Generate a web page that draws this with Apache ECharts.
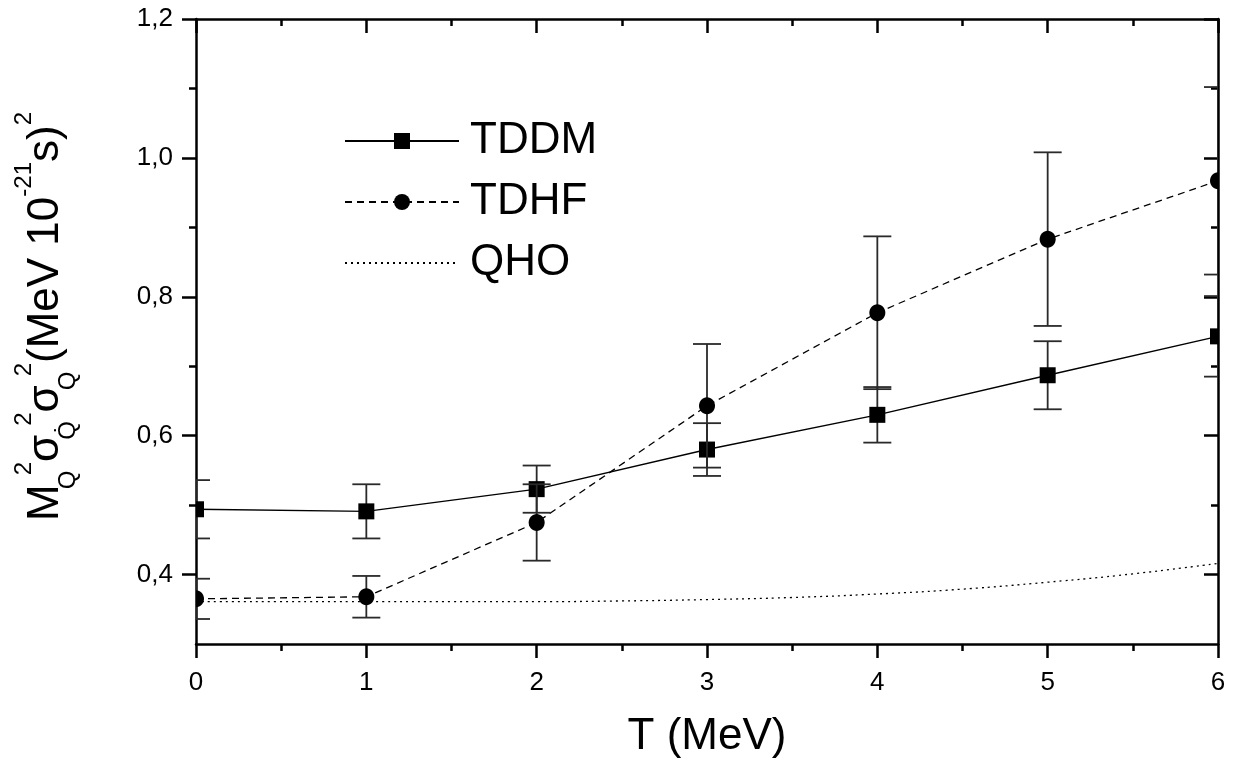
<!DOCTYPE html>
<html>
<head>
<meta charset="utf-8">
<script src="https://cdn.jsdelivr.net/npm/echarts@6/dist/echarts.min.js"></script>
<style>
html,body{margin:0;padding:0;background:#fff;}
#chart{width:1235px;height:767px;}
</style>
</head>
<body>
<div id="chart"></div>
<script>
// ---- data ----
const T = [0, 1, 2, 3, 4, 5, 6];
const TDDM = [0.494, 0.491, 0.523, 0.580, 0.630, 0.687, 0.743];
const TDDM_ERR = [0.042, 0.039, 0.034, 0.038, 0.040, 0.049, 0.058];
const TDHF = [0.365, 0.368, 0.475, 0.643, 0.777, 0.883, 0.967];
const TDHF_ERR = [0.029, 0.030, 0.055, 0.089, 0.110, 0.125, 0.135];
const QHO_T = [0, 0.5, 1, 1.5, 2, 2.5, 3, 3.5, 4, 4.5, 5, 5.5, 6];
const QHO = [0.361, 0.361, 0.361, 0.361, 0.361, 0.362, 0.364, 0.367, 0.372, 0.379, 0.389, 0.401, 0.416];
const Y_MAJOR = [0.4, 0.6, 0.8, 1.0, 1.2];
const Y_MINOR = [0.5, 0.7, 0.9, 1.1];
const X_MIN = 0, X_MAX = 6, Y_MIN = 0.3, Y_MAX = 1.2;

const FONT = '"Liberation Sans", Arial, Helvetica, sans-serif';
const chart = echarts.init(document.getElementById('chart'), null, {renderer: 'canvas'});

const tddmData = T.map((t, i) => [t, TDDM[i], TDDM_ERR[i]]);
const tdhfData = T.map((t, i) => [t, TDHF[i], TDHF_ERR[i]]);
const qhoData = QHO_T.map((t, i) => [t, QHO[i]]);

function errRender(kind) {
  return function (params, api) {
    const x = api.value(0), y = api.value(1), e = api.value(2);
    const c = api.coord([x, y]);
    const t = api.coord([x, y + e]);
    const b = api.coord([x, y - e]);
    const cap = 14;
    const st = {stroke: '#2a2a2a', lineWidth: 1.8, fill: null};
    const children = [
      {type: 'line', shape: {x1: c[0], y1: t[1], x2: c[0], y2: b[1]}, style: st},
      {type: 'line', shape: {x1: c[0] - cap, y1: t[1], x2: c[0] + cap, y2: t[1]}, style: st},
      {type: 'line', shape: {x1: c[0] - cap, y1: b[1], x2: c[0] + cap, y2: b[1]}, style: st}
    ];
    if (kind === 'rect') {
      children.push({type: 'rect', shape: {x: c[0] - 8, y: c[1] - 8, width: 16, height: 16}, style: {fill: '#000'}});
    } else {
      children.push({type: 'ellipse', shape: {cx: c[0], cy: c[1], rx: 8, ry: 8.5}, style: {fill: '#000'}});
    }
    return {type: 'group', children: children};
  };
}

const axisLineStyle = {color: '#000', width: 2.5};
const tickStyle = {color: '#000', width: 2.5};
const yFmt = v => v.toFixed(1).replace('.', ',');

const option = {
  animation: false,
  backgroundColor: '#fff',
  grid: {left: 196, right: 17, top: 19, bottom: 123, containLabel: false},
  legend: {
    orient: 'vertical',
    left: 344,
    top: 117,
    padding: 0,
    itemWidth: 114,
    itemHeight: 20,
    itemGap: 13,
    selectedMode: false,
    data: [
      {name: 'TDDM'},
      {name: 'TDHF'},
      {name: 'QHO', itemStyle: {color: 'rgba(0,0,0,0)', borderColor: 'rgba(0,0,0,0)', borderWidth: 0}}
    ],
    textStyle: {fontFamily: FONT, fontSize: 44, lineHeight: 48, color: '#000', padding: [0, 0, 0, 6]}
  },
  xAxis: [
    {
      type: 'value', min: X_MIN, max: X_MAX, interval: 1, position: 'bottom',
      axisLine: {lineStyle: axisLineStyle},
      axisTick: {length: 14, lineStyle: tickStyle},
      minorTick: {show: true, splitNumber: 2, length: 7, lineStyle: tickStyle},
      splitLine: {show: false},
      axisLabel: {fontFamily: FONT, fontSize: 26, color: '#000', margin: 26},
      name: 'T (MeV)', nameLocation: 'middle', nameGap: 71,
      nameTextStyle: {fontFamily: FONT, fontSize: 44, color: '#000'}
    },
    {
      type: 'value', min: X_MIN, max: X_MAX, interval: 1, position: 'top',
      axisLine: {lineStyle: axisLineStyle},
      axisTick: {inside: true, length: 14, lineStyle: tickStyle},
      minorTick: {show: true, splitNumber: 2, length: 7, lineStyle: tickStyle},
      splitLine: {show: false},
      axisLabel: {show: false}
    }
  ],
  yAxis: [
    {
      type: 'value', min: Y_MIN, max: Y_MAX, position: 'left',
      axisLine: {lineStyle: axisLineStyle},
      axisTick: {length: 14, lineStyle: tickStyle, customValues: Y_MAJOR},
      splitLine: {show: false},
      axisLabel: {fontFamily: FONT, fontSize: 26, color: '#000', margin: 23, customValues: Y_MAJOR, formatter: yFmt},
      name: '{m|M}{b|Q}{p|2}{m|σ}{b|Q̇}{p|2}{m|σ}{b|Q}{p|2}{m|(MeV 10}{p|-21}{m|s)}{p|2}',
      nameLocation: 'middle', nameRotate: 90, nameGap: 116,
      nameTextStyle: {
        fontFamily: FONT, color: '#000', padding: [0, 0, 0, 30],
        rich: {
          m: {fontFamily: FONT, fontSize: 44, lineHeight: 68, color: '#000'},
          p: {fontFamily: FONT, fontSize: 24, lineHeight: 24, verticalAlign: 'top', color: '#000'},
          b: {fontFamily: FONT, fontSize: 24, lineHeight: 24, verticalAlign: 'bottom', width: 9, color: '#000'}
        }
      }
    },
    {
      type: 'value', min: Y_MIN, max: Y_MAX, position: 'left',
      axisLine: {show: false},
      axisTick: {length: 7, lineStyle: tickStyle, customValues: Y_MINOR},
      splitLine: {show: false},
      axisLabel: {show: false}
    },
    {
      type: 'value', min: Y_MIN, max: Y_MAX, position: 'right',
      axisLine: {lineStyle: axisLineStyle},
      axisTick: {inside: true, length: 14, lineStyle: tickStyle, customValues: Y_MAJOR},
      splitLine: {show: false},
      axisLabel: {show: false}
    },
    {
      type: 'value', min: Y_MIN, max: Y_MAX, position: 'right',
      axisLine: {show: false},
      axisTick: {inside: true, length: 7, lineStyle: tickStyle, customValues: Y_MINOR},
      splitLine: {show: false},
      axisLabel: {show: false}
    }
  ],
  series: [
    {
      name: 'QHO', type: 'line', data: qhoData, xAxisIndex: 0, yAxisIndex: 0,
      symbol: 'none', showSymbol: false, smooth: true,
      lineStyle: {color: '#000', width: 1.3, type: [2, 4]},
      itemStyle: {color: '#000'}, clip: true, z: 2
    },
    {
      name: 'TDDM', type: 'line', data: tddmData.map(d => [d[0], d[1]]), xAxisIndex: 0, yAxisIndex: 0,
      symbol: 'rect', showSymbol: false,
      lineStyle: {color: '#000', width: 1.4, type: 'solid'},
      itemStyle: {color: '#000'}, clip: true, z: 2
    },
    {
      name: 'TDHF', type: 'line', data: tdhfData.map(d => [d[0], d[1]]), xAxisIndex: 0, yAxisIndex: 0,
      symbol: 'circle', showSymbol: false,
      lineStyle: {color: '#000', width: 1.3, type: [7, 5]},
      itemStyle: {color: '#000'}, clip: true, z: 2
    },
    {
      name: 'TDDM err', type: 'custom', data: tddmData, xAxisIndex: 0, yAxisIndex: 0,
      renderItem: errRender('rect'), clip: true, z: 3, silent: true
    },
    {
      name: 'TDHF err', type: 'custom', data: tdhfData, xAxisIndex: 0, yAxisIndex: 0,
      renderItem: errRender('circle'), clip: true, z: 3, silent: true
    }
  ]
};
chart.setOption(option);
</script>
</body>
</html>
